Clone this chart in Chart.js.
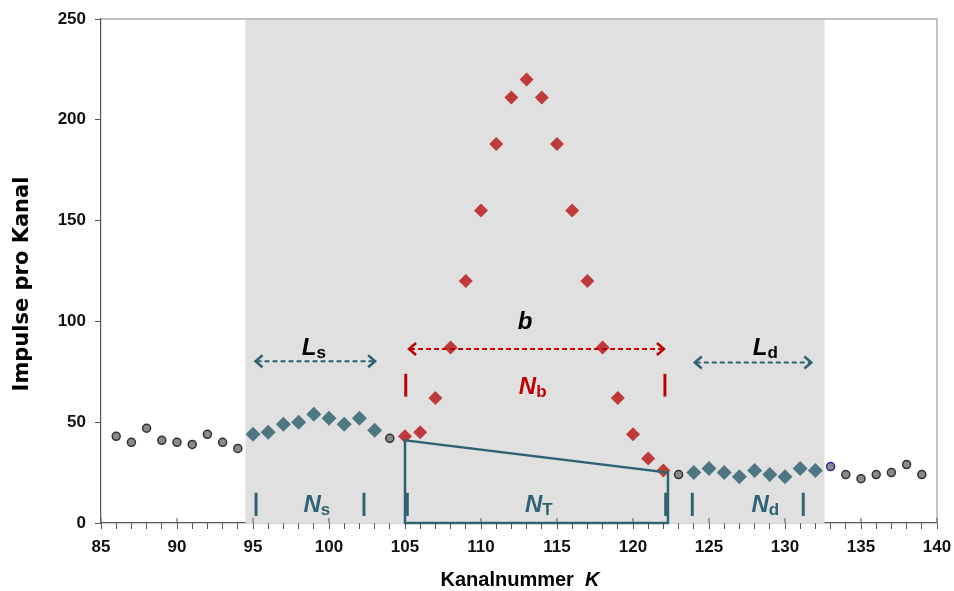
<!DOCTYPE html>
<html>
<head>
<meta charset="utf-8">
<script src="https://cdn.jsdelivr.net/npm/chart.js@4.4.1/dist/chart.umd.min.js"></script>
<style>
    html, body { margin: 0; padding: 0; background: #fff; }
    #wrap { width: 954px; height: 591px; position: relative; }
</style>
</head>
<body>
<div id="wrap"><canvas id="chart"></canvas></div>
<script>
// channel numbers (K) and counts per channel
const outsideK = [86, 87, 88, 89, 90, 91, 92, 93, 94, 104, 123, 134, 135, 136, 137, 138, 139];
const outsideN = [43, 40, 47, 41, 40, 39, 44, 40, 37, 42, 24, 24, 22, 24, 25, 29, 24];
const leftK = [95, 96, 97, 98, 99, 100, 101, 102, 103];
const leftN = [44, 45, 49, 50, 54, 52, 49, 52, 46];
const peakK = [105, 106, 107, 108, 109, 110, 111, 112, 113, 114, 115, 116, 117, 118, 119, 120, 121, 122];
const peakN = [43, 45, 62, 87, 120, 155, 188, 211, 220, 211, 188, 155, 120, 87, 62, 44, 32, 26];
const rightK = [124, 125, 126, 127, 128, 129, 130, 131, 132];
const rightN = [25, 27, 25, 23, 26, 24, 23, 27, 26];
const markK = [133];
const markN = [28];

const xTicks = [85, 90, 95, 100, 105, 110, 115, 120, 125, 130, 135, 140];
const yTicks = [0, 50, 100, 150, 200, 250];

// annotation positions in data units
const shadeFrom = 94.5, shadeTo = 132.6;
const boxK = [105, 122.3];
const boxN = [41, 25];

const TEAL = '#2f6373';
const RED = '#c00000';
const FONT = "'Liberation Sans', Arial, sans-serif";
const WIDE = "'DejaVu Sans', Verdana, sans-serif";

function pts(xs, ys) {
    return xs.map((x, i) => ({ x: x, y: ys[i] }));
}

// draws shading, box, arrows and labels
const decorPlugin = {
    id: 'decor',
    beforeDatasetsDraw(chart) {
        const { ctx, chartArea, scales } = chart;
        const x = scales.x;
        ctx.save();
        ctx.fillStyle = '#e0e0e0';
        const x1 = x.getPixelForValue(shadeFrom);
        const x2 = x.getPixelForValue(shadeTo);
        ctx.fillRect(x1, chartArea.top, x2 - x1, chartArea.bottom - chartArea.top);
        // top + right frame
        ctx.strokeStyle = '#b0b0b0';
        ctx.lineWidth = 1.5;
        ctx.beginPath();
        ctx.moveTo(chartArea.left, chartArea.top);
        ctx.lineTo(chartArea.right, chartArea.top);
        ctx.lineTo(chartArea.right, chartArea.bottom);
        ctx.stroke();
        ctx.restore();
    },
    afterDatasetsDraw(chart) {
        const { ctx, chartArea, scales } = chart;
        const x = scales.x, y = scales.y;
        const px = v => x.getPixelForValue(v);
        const py = v => y.getPixelForValue(v);
        ctx.save();

        // major x ticks poke above the axis
        ctx.strokeStyle = '#555';
        ctx.lineWidth = 1;
        xTicks.forEach(t => {
            ctx.beginPath();
            ctx.moveTo(px(t), chartArea.bottom);
            ctx.lineTo(px(t), chartArea.bottom - 5);
            ctx.stroke();
        });

        // N_T box
        ctx.strokeStyle = TEAL;
        ctx.lineWidth = 2.5;
        ctx.beginPath();
        ctx.moveTo(px(boxK[0]), py(0));
        ctx.lineTo(px(boxK[0]), py(boxN[0]));
        ctx.lineTo(px(boxK[1]), py(boxN[1]));
        ctx.lineTo(px(boxK[1]), py(0));
        ctx.closePath();
        ctx.stroke();

        // short vertical bars
        function bar(k, lo, hi, color) {
            ctx.strokeStyle = color;
            ctx.lineWidth = 3;
            ctx.beginPath();
            ctx.moveTo(px(k), py(lo));
            ctx.lineTo(px(k), py(hi));
            ctx.stroke();
        }
        [95.2, 102.3, 105.15, 122.15, 123.9, 131.2].forEach(k => bar(k, 3.5, 15, TEAL));
        [105.05, 122.1].forEach(k => bar(k, 62.7, 74, RED));

        // dashed double arrows
        function arrow(k1, k2, n, color) {
            const a = px(k1), b = px(k2), yy = py(n);
            ctx.strokeStyle = color;
            ctx.lineWidth = 2;
            ctx.setLineDash([5, 3]);
            ctx.beginPath();
            ctx.moveTo(a + 2, yy);
            ctx.lineTo(b - 2, yy);
            ctx.stroke();
            ctx.setLineDash([]);
            ctx.lineWidth = 2.5;
            ctx.beginPath();
            ctx.moveTo(a + 8, yy - 6);
            ctx.lineTo(a + 1, yy);
            ctx.lineTo(a + 8, yy + 6);
            ctx.moveTo(b - 8, yy - 6);
            ctx.lineTo(b - 1, yy);
            ctx.lineTo(b - 8, yy + 6);
            ctx.stroke();
        }
        arrow(95.1, 103.1, 80.2, TEAL);
        arrow(105.2, 122.1, 86.3, RED);
        arrow(124.0, 131.8, 79.6, TEAL);

        // symbol with subscript, centred at k
        function sym(main, sub, k, n, color, size) {
            ctx.fillStyle = color;
            ctx.textBaseline = 'alphabetic';
            const mf = 'italic bold ' + size + 'px ' + FONT;
            const sf = 'bold ' + Math.round(size * 0.7) + 'px ' + FONT;
            ctx.font = mf;
            const w1 = ctx.measureText(main).width;
            ctx.font = sf;
            const w2 = sub ? ctx.measureText(sub).width : 0;
            const start = px(k) - (w1 + w2) / 2;
            const base = py(n);
            ctx.font = mf;
            ctx.textAlign = 'left';
            ctx.fillText(main, start, base);
            if (sub) {
                ctx.font = sf;
                ctx.fillText(sub, start + w1, base + 3);
            }
        }
        sym('L', 's', 99.0, 83.5, '#000', 24);
        sym('b', '', 112.9, 96, '#000', 24);
        sym('L', 'd', 128.7, 83.5, '#000', 24);
        sym('N', 'b', 113.4, 64, RED, 24);
        sym('N', 's', 99.2, 5.5, TEAL, 24);
        sym('N', 'T', 113.8, 5.5, TEAL, 24);
        sym('N', 'd', 128.7, 5.5, TEAL, 24);

        // axis titles
        ctx.fillStyle = '#000';
        ctx.font = 'bold 20px ' + FONT;
        const t1 = 'Kanalnummer  ';
        const w1 = ctx.measureText(t1).width;
        ctx.font = 'italic bold 20px ' + FONT;
        const w2 = ctx.measureText('K').width;
        const sx = 520 - (w1 + w2) / 2;
        ctx.textAlign = 'left';
        ctx.textBaseline = 'middle';
        ctx.font = 'bold 20px ' + FONT;
        ctx.fillText(t1, sx, 580);
        ctx.font = 'italic bold 20px ' + FONT;
        ctx.fillText('K', sx + w1, 580);

        ctx.translate(23, 284);
        ctx.rotate(-Math.PI / 2);
        ctx.textAlign = 'center';
        ctx.font = 'bold 21px ' + WIDE;
        ctx.fillText('Impulse pro Kanal', 0, 0);
        ctx.restore();
    }
};

const ctx = document.getElementById('chart').getContext('2d');
new Chart(ctx, {
    type: 'scatter',
    data: {
        datasets: [{
            data: pts(outsideK, outsideN),
            pointStyle: 'circle',
            pointRadius: 4,
            backgroundColor: '#8a8a8a',
            borderColor: '#303030',
            borderWidth: 1.5
        }, {
            data: pts(markK, markN),
            pointStyle: 'circle',
            pointRadius: 4,
            backgroundColor: '#8a8a8a',
            borderColor: '#2a2aa0',
            borderWidth: 1.5
        }, {
            data: pts(leftK, leftN),
            pointStyle: 'rectRot',
            pointRadius: 7.5,
            backgroundColor: '#4e7784',
            borderColor: '#4e7784',
            borderWidth: 0
        }, {
            data: pts(rightK, rightN),
            pointStyle: 'rectRot',
            pointRadius: 7.5,
            backgroundColor: '#4e7784',
            borderColor: '#4e7784',
            borderWidth: 0
        }, {
            data: pts(peakK, peakN),
            pointStyle: 'rectRot',
            pointRadius: 7,
            backgroundColor: '#bf3b3b',
            borderColor: '#bf3b3b',
            borderWidth: 0
        }]
    },
    options: {
        responsive: true,
        maintainAspectRatio: false,
        animation: false,
        layout: { padding: { left: 0, top: 19, right: 17, bottom: 0 } },
        plugins: {
            legend: { display: false },
            tooltip: { enabled: false }
        },
        scales: {
            x: {
                type: 'linear',
                min: 85,
                max: 140,
                afterFit: s => {
                    s.height = 68;
                    s.paddingLeft = 0;
                    s.paddingRight = 0;
                },
                afterBuildTicks: s => {
                    const t = [];
                    for (let k = 85; k <= 140; k++) t.push({ value: k });
                    s.ticks = t;
                },
                border: { color: '#555', width: 1.2 },
                grid: { drawOnChartArea: false, tickLength: 6, color: '#555' },
                ticks: {
                    autoSkip: false,
                    maxRotation: 0,
                    padding: 8,
                    color: '#111',
                    font: { family: FONT, size: 17, weight: 'bold' },
                    callback: v => (xTicks.includes(v) ? String(v) : '')
                }
            },
            y: {
                min: 0,
                max: 250,
                afterFit: s => {
                    s.width = 101;
                    s.paddingTop = 0;
                    s.paddingBottom = 0;
                },
                afterBuildTicks: s => { s.ticks = yTicks.map(v => ({ value: v })); },
                border: { color: '#555', width: 1.2 },
                grid: { drawOnChartArea: false, tickLength: 6, color: '#555' },
                ticks: {
                    padding: 9,
                    color: '#111',
                    font: { family: FONT, size: 17, weight: 'bold' }
                }
            }
        }
    },
    plugins: [decorPlugin]
});
</script>
</body>
</html>
